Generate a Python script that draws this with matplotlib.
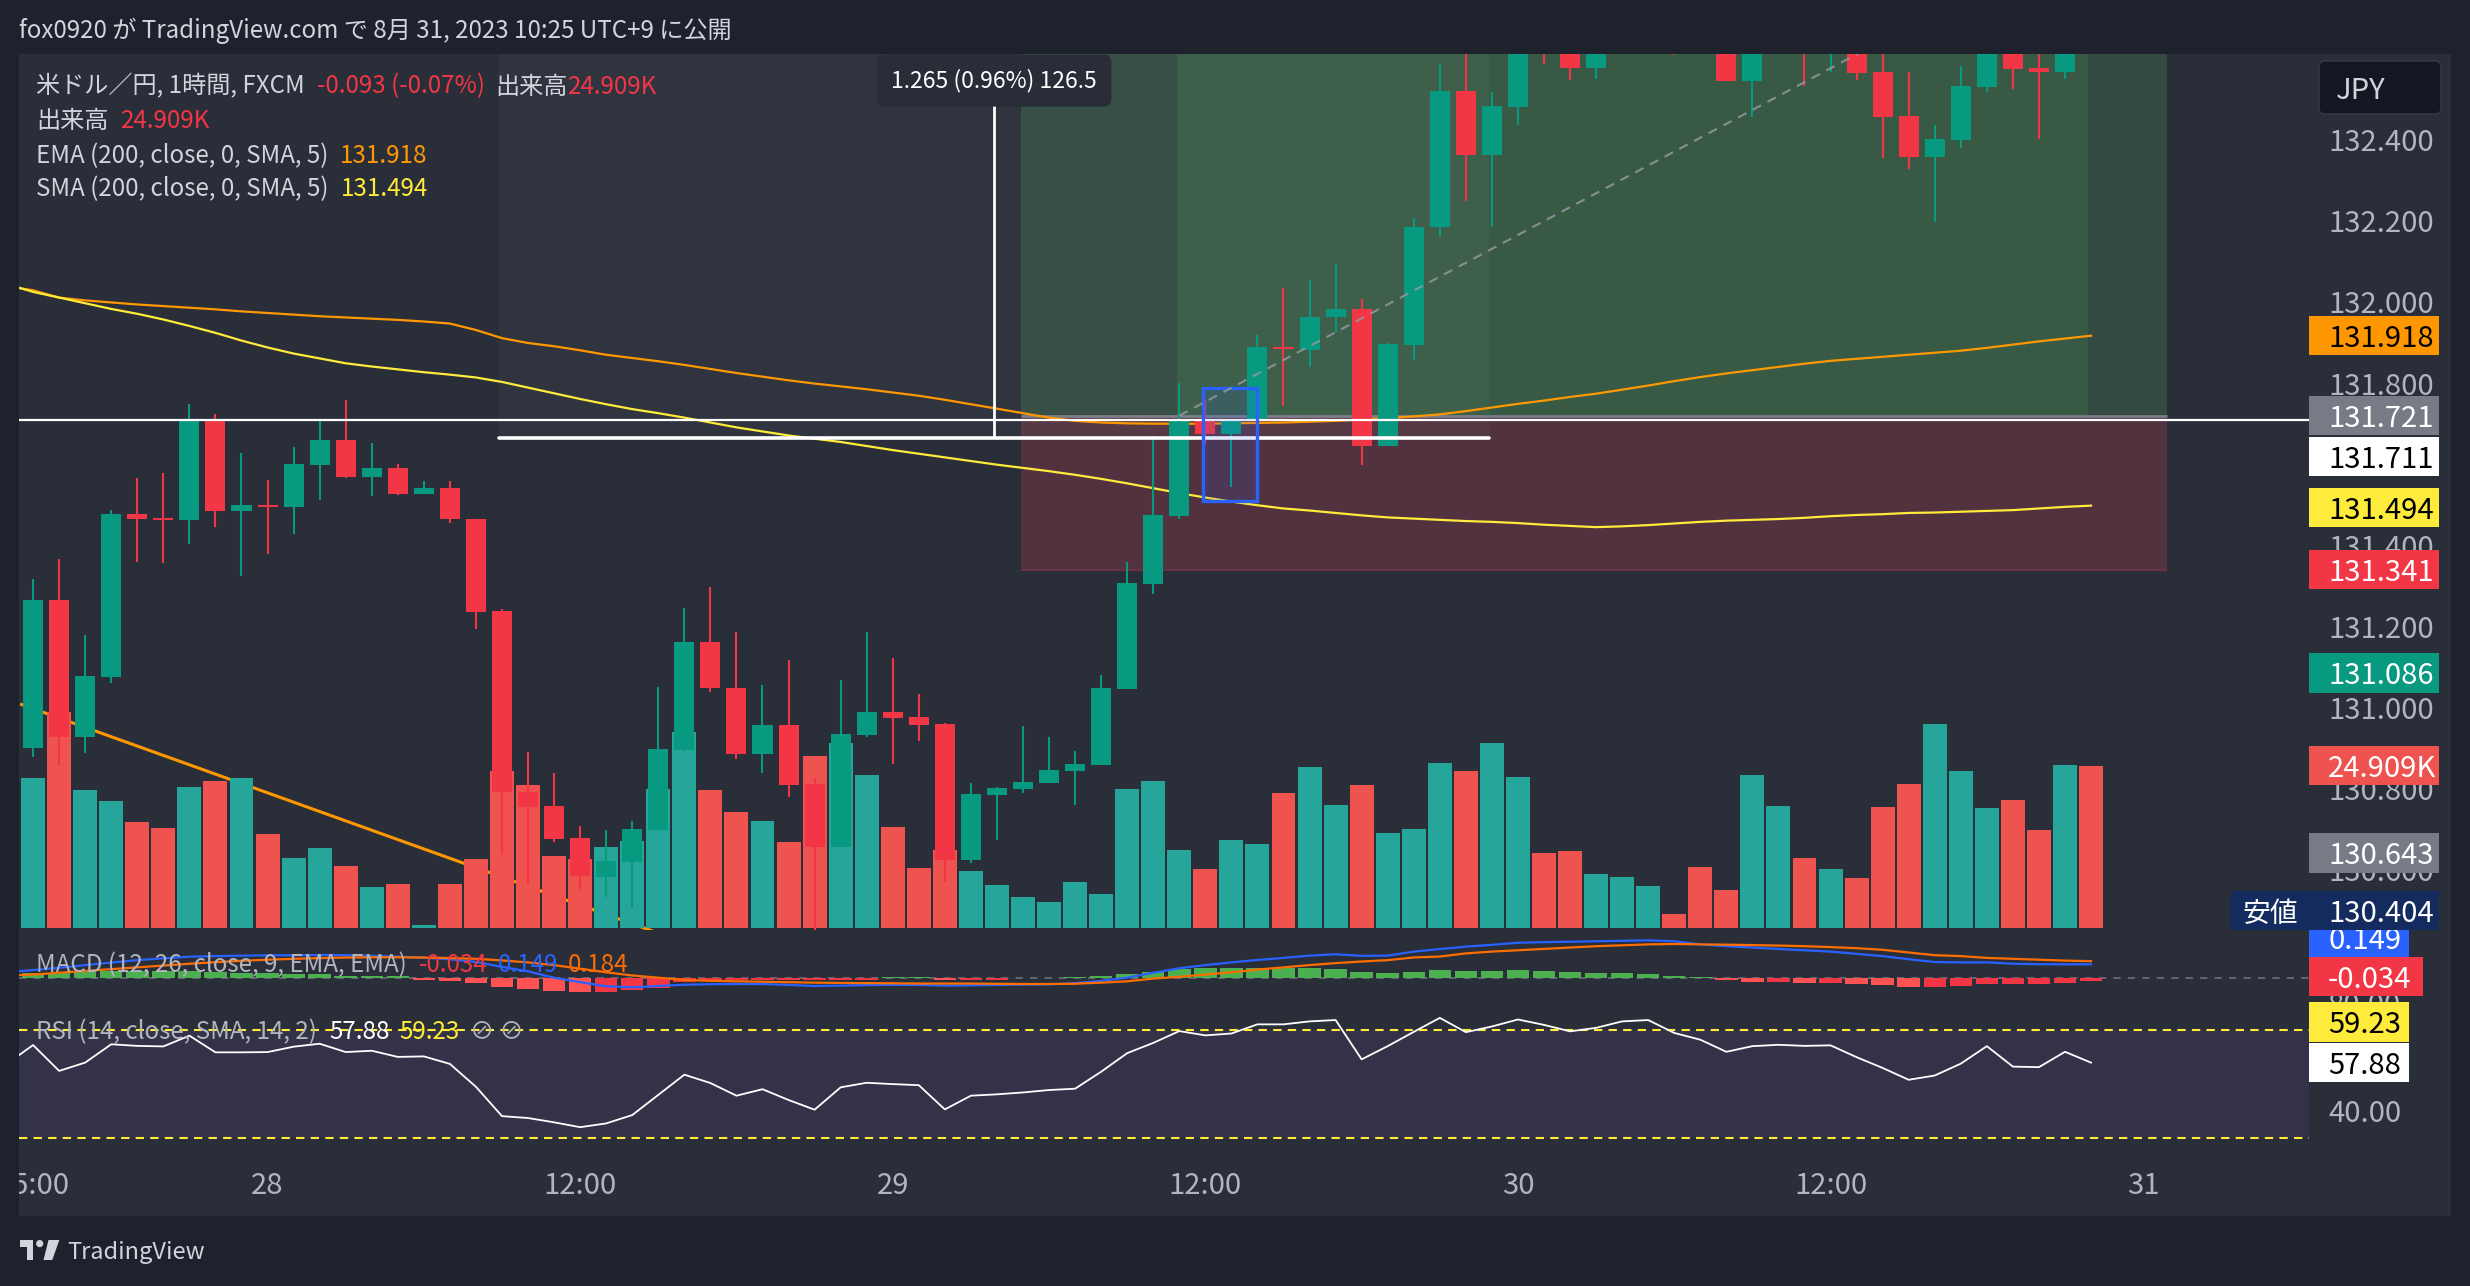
import numpy as np
import matplotlib
matplotlib.use('Agg')
import matplotlib.pyplot as plt
import matplotlib.transforms as mtransforms
from matplotlib.patches import Rectangle, FancyBboxPatch, Polygon, Circle

plt.rcParams['font.family'] = ['Noto Sans CJK JP', 'DejaVu Sans']

W, H = 2470, 1286

# ---------------- data ----------------
# 1h candles, index 0 = 27th 15:00
opens = [130.902, 131.266, 130.929, 131.077, 131.479, 131.468, 131.464, 131.707, 131.486, 131.501,
         131.496, 131.599, 131.661, 131.570, 131.592, 131.528, 131.543, 131.466, 131.240, 130.792,
         130.758, 130.680, 130.584, 130.620, 130.699, 130.897, 131.163, 131.050, 130.887, 130.958,
         130.813, 130.658, 130.934, 130.990, 130.978, 130.960, 130.625, 130.786, 130.800, 130.815,
         130.845, 130.860, 131.047, 131.306, 131.473, 131.713, 131.676, 131.707, 131.890, 131.883,
         131.964, 131.984, 131.646, 131.896, 132.185, 132.521, 132.364, 132.482, 132.700, 132.650,
         132.577, 132.660, 132.720, 132.750, 132.700, 132.680, 132.546, 132.660, 132.700, 132.660,
         132.700, 132.568, 132.460, 132.359, 132.400, 132.531, 132.650, 132.578, 132.568, 132.720]
highs = [131.318, 131.367, 131.180, 131.488, 131.567, 131.580, 131.750, 131.725, 131.629, 131.562,
         131.644, 131.708, 131.759, 131.654, 131.602, 131.560, 131.560, 131.466, 131.244, 130.892,
         130.840, 130.709, 130.699, 130.722, 131.052, 131.247, 131.298, 131.187, 131.057, 131.119,
         130.827, 131.070, 131.187, 131.124, 131.035, 130.962, 130.816, 130.806, 130.956, 130.929,
         130.894, 131.082, 131.360, 131.671, 131.801, 131.762, 131.711, 131.920, 132.036, 132.055,
         132.095, 132.008, 131.899, 132.208, 132.588, 132.700, 132.519, 132.720, 132.760, 132.700,
         132.700, 132.780, 132.800, 132.790, 132.770, 132.720, 132.700, 132.740, 132.730, 132.740,
         132.730, 132.650, 132.568, 132.437, 132.583, 132.680, 132.680, 132.660, 132.660, 132.740]
lows = [130.880, 130.858, 130.890, 131.062, 131.360, 131.358, 131.404, 131.446, 131.326, 131.380,
        131.429, 131.513, 131.567, 131.523, 131.525, 131.528, 131.457, 131.195, 130.638, 130.567,
        130.670, 130.554, 130.535, 130.508, 130.699, 130.894, 131.040, 130.874, 130.841, 130.781,
        130.453, 130.658, 130.929, 130.862, 130.919, 130.571, 130.618, 130.675, 130.791, 130.815,
        130.760, 130.860, 131.047, 131.282, 131.465, 131.651, 131.544, 131.707, 131.745, 131.840,
        131.927, 131.599, 131.645, 131.859, 132.162, 132.251, 132.186, 132.438, 132.587, 132.549,
        132.550, 132.630, 132.650, 132.611, 132.650, 132.546, 132.458, 132.630, 132.534, 132.569,
        132.548, 132.357, 132.329, 132.198, 132.381, 132.520, 132.526, 132.403, 132.551, 132.640]
closes = [131.266, 130.929, 131.079, 131.479, 131.467, 131.463, 131.707, 131.486, 131.501, 131.495,
          131.602, 131.661, 131.570, 131.592, 131.528, 131.543, 131.466, 131.237, 130.792, 130.757,
          130.677, 130.585, 130.623, 130.702, 130.899, 131.163, 131.050, 130.887, 130.958, 130.810,
          130.658, 130.936, 130.990, 130.975, 130.958, 130.625, 130.788, 130.803, 130.817, 130.847,
          130.862, 131.050, 131.309, 131.476, 131.713, 131.676, 131.707, 131.890, 131.885, 131.964,
          131.984, 131.646, 131.898, 132.186, 132.521, 132.364, 132.484, 132.680, 132.650, 132.577,
          132.660, 132.720, 132.750, 132.700, 132.680, 132.546, 132.660, 132.700, 132.660, 132.700,
          132.566, 132.457, 132.359, 132.403, 132.533, 132.650, 132.575, 132.568, 132.630, 132.660]
# volume in K
volumes = [23.05, 33.2, 21.2, 19.5, 16.3, 15.4, 21.6, 22.6, 23.05, 14.4,
           10.8, 12.3, 9.5, 6.3, 6.75, 0.4, 6.75, 10.6, 24.1, 22.0,
           11.06, 10.6, 12.4, 13.4, 21.3, 30.1, 21.2, 17.8, 16.4, 13.2,
           26.4, 28.4, 23.5, 15.5, 9.2, 12.0, 8.75, 6.6, 4.76, 4.0,
           7.06, 5.2, 21.3, 22.6, 12.0, 9.06, 13.5, 12.9, 20.7, 24.7,
           18.9, 22.0, 14.6, 15.2, 25.3, 24.1, 28.4, 23.2, 11.5, 11.8,
           8.3, 7.9, 6.45, 2.15, 9.4, 5.8, 23.5, 18.7, 10.75, 9.06,
           7.7, 18.6, 22.1, 31.4, 24.1, 18.5, 19.7, 15.05, 25.0, 24.909]

# indicator series start one bar earlier (index -1, off screen)
ema200 = [132.040, 132.030, 132.012, 132.005, 132.000, 131.995, 131.991, 131.987, 131.983, 131.978,
          131.974, 131.970, 131.966, 131.963, 131.960, 131.957, 131.953, 131.948, 131.932, 131.912,
          131.900, 131.892, 131.882, 131.871, 131.863, 131.855, 131.846, 131.836, 131.826, 131.817,
          131.808, 131.800, 131.793, 131.786, 131.778, 131.770, 131.760, 131.749, 131.738, 131.727,
          131.716, 131.708, 131.704, 131.702, 131.701, 131.701, 131.701, 131.702, 131.703, 131.704,
          131.706, 131.708, 131.711, 131.715, 131.719, 131.724, 131.732, 131.741, 131.750, 131.758,
          131.767, 131.775, 131.785, 131.795, 131.806, 131.816, 131.825, 131.833, 131.841, 131.849,
          131.856, 131.861, 131.866, 131.871, 131.876, 131.881, 131.888, 131.896, 131.904, 131.911,
          131.918]
sma200 = [132.045, 132.026, 132.012, 131.998, 131.984, 131.972, 131.958, 131.942, 131.925, 131.906,
          131.889, 131.874, 131.862, 131.850, 131.842, 131.835, 131.828, 131.822, 131.815, 131.804,
          131.790, 131.776, 131.762, 131.749, 131.737, 131.727, 131.716, 131.704, 131.692, 131.682,
          131.672, 131.664, 131.656, 131.646, 131.636, 131.627, 131.618, 131.609, 131.600, 131.592,
          131.584, 131.575, 131.565, 131.554, 131.542, 131.530, 131.519, 131.509, 131.500, 131.492,
          131.487, 131.481, 131.475, 131.470, 131.467, 131.464, 131.461, 131.459, 131.456, 131.452,
          131.449, 131.446, 131.448, 131.451, 131.455, 131.459, 131.462, 131.464, 131.466, 131.469,
          131.473, 131.476, 131.478, 131.481, 131.482, 131.484, 131.486, 131.488, 131.492, 131.496,
          131.499]
macd_line = [0.060, 0.085, 0.110, 0.140, 0.168, 0.195, 0.215, 0.233, 0.240, 0.245,
             0.248, 0.250, 0.252, 0.250, 0.243, 0.233, 0.222, 0.205, 0.175, 0.120,
             0.070, 0.000, -0.050, -0.095, -0.107, -0.092, -0.078, -0.072, -0.070, -0.070,
             -0.080, -0.092, -0.088, -0.082, -0.080, -0.080, -0.088, -0.085, -0.080, -0.077,
             -0.074, -0.060, -0.035, 0.000, 0.055, 0.105, 0.140, 0.170, 0.197, 0.220,
             0.245, 0.260, 0.243, 0.245, 0.290, 0.318, 0.345, 0.365, 0.388, 0.395,
             0.400, 0.405, 0.410, 0.415, 0.405, 0.370, 0.350, 0.335, 0.320, 0.305,
             0.290, 0.265, 0.240, 0.205, 0.174, 0.170, 0.170, 0.155, 0.150, 0.149,
             0.149]
macd_signal = [0.025, 0.035, 0.055, 0.075, 0.095, 0.115, 0.135, 0.155, 0.172, 0.188,
               0.200, 0.210, 0.218, 0.224, 0.227, 0.227, 0.224, 0.218, 0.210, 0.192,
               0.170, 0.140, 0.100, 0.060, 0.025, 0.000, -0.025, -0.035, -0.040, -0.045,
               -0.050, -0.055, -0.058, -0.060, -0.062, -0.065, -0.065, -0.065, -0.068, -0.070,
               -0.070, -0.067, -0.055, -0.040, -0.010, 0.010, 0.035, 0.060, 0.090, 0.115,
               0.140, 0.162, 0.180, 0.195, 0.225, 0.235, 0.270, 0.290, 0.305, 0.320,
               0.335, 0.350, 0.360, 0.370, 0.375, 0.370, 0.367, 0.362, 0.357, 0.350,
               0.340, 0.328, 0.310, 0.280, 0.250, 0.240, 0.220, 0.210, 0.200, 0.190,
               0.184]
macd_hist = [0.049, 0.049, 0.067, 0.078, 0.078, 0.078, 0.078, 0.067, 0.056, 0.049,
             0.037, 0.037, 0.022, 0.015, 0.015, -0.026, -0.037, -0.055, -0.103, -0.126,
             -0.144, -0.156, -0.156, -0.133, -0.111, -0.044, -0.026, -0.026, -0.026, -0.026,
             -0.026, -0.026, -0.026, 0.004, 0.004, -0.026, -0.026, -0.022, -0.007, -0.004,
             0.007, 0.019, 0.040, 0.063, 0.097, 0.107, 0.107, 0.104, 0.107, 0.107,
             0.097, 0.063, 0.052, 0.063, 0.085, 0.074, 0.074, 0.085, 0.074, 0.063,
             0.052, 0.052, 0.040, 0.019, 0.007, -0.022, -0.044, -0.044, -0.055, -0.055,
             -0.067, -0.078, -0.100, -0.100, -0.089, -0.067, -0.067, -0.067, -0.055, -0.034]
rsi14 = [57.5, 64.4, 54.8, 57.9, 64.7, 64.1, 63.9, 67.9, 61.7, 61.7,
         61.8, 63.8, 64.9, 61.8, 62.3, 60.0, 60.2, 57.4, 48.9, 38.0,
         37.3, 35.7, 33.9, 35.3, 38.4, 45.9, 53.4, 50.3, 45.6, 48.0,
         44.0, 40.4, 48.7, 50.4, 49.9, 49.5, 40.5, 45.6, 46.1, 46.8,
         47.7, 48.2, 54.5, 61.4, 65.2, 69.6, 68.0, 68.7, 72.1, 72.1,
         73.2, 73.7, 59.1, 64.0, 69.3, 74.5, 69.2, 71.3, 73.9, 71.9,
         69.5, 70.8, 73.2, 73.7, 68.9, 66.4, 61.9, 64.0, 64.5, 64.1,
         64.3, 59.9, 55.9, 51.5, 53.1, 57.5, 64.0, 56.4, 56.2, 61.9,
         57.88]

# visible price scale ticks (131.600 sits fully under a label in the reference)
price_ticks = [130.6, 130.8, 131.0, 131.2, 131.4, 131.8, 132.0, 132.2, 132.4]
rsi_ticks = [80, 40]
time_ticks = [0, 9, 21, 33, 45, 57, 69, 81]
time_labels = ['15:00', '28', '12:00', '29', '12:00', '30', '12:00', '31']

# drawings
hline_price = 131.711
long_entry, long_stop, long_target = 131.721, 131.341, 132.95
long_x0, long_x1 = 37.92, 81.92
long_fill_x0, long_fill_x1 = 43.9, 78.9
measure_x0, measure_x1, measure_vx = 17.9, 55.9, 36.9
measure_low, measure_size = 131.666, 1.265
trend_x = [-0.5, 26.0]
trend_y = [131.010, 130.399]
box_x = [44.9, 47.0]
box_y = [131.511, 131.789]
path_x = [44.0, 79.0]
path_y = [131.721, 132.92]

# ---------------- layout (pixels) ----------------
BG = '#2a2e39'
DARK = '#1e222d'
TXT = '#d1d4dc'
AXT = '#b2b5be'
UP, DOWN = '#089981', '#f23645'
VUP, VDOWN = '#26a69a', '#ef5350'

PL, PR = 19.3, 2309.0           # plot left/right
MT, MB = 53.6, 930.0            # main pane top/bottom
MACD_B, RSI_B, TIME_B = 1003.0, 1156.0, 1216.0
PX = mtransforms.IdentityTransform()
DY = 3                          # Noto CJK sits a bit high with va='center'
LEG = 17.4


def frac(x0, y0, x1, y1):
    return [x0 / W, 1 - y1 / H, (x1 - x0) / W, (y1 - y0) / H]


def xidx(X):
    return (X - 33.1) / 26.05


def fy(Y):
    return H - Y


fig = plt.figure(figsize=(W / 100, H / 100), dpi=100, facecolor=DARK)
fig.patches.append(Rectangle((PL, fy(TIME_B)), 2451 - PL, TIME_B - MT,
                             transform=PX, facecolor=BG, edgecolor='none', zorder=-10))

xl = (xidx(PL), xidx(PR))
plo = 132.4 - (MB - 140.2) / 405.6
phi = 132.4 - (MT - 140.2) / 405.6

ax_vol = fig.add_axes(frac(PL, MT, PR, MB))
ax_vol.set_xlim(*xl)
ax_vol.set_ylim(-(MB - 928) / 6.512, (928 - MT) / 6.512)
ax_vol.axis('off')

ax = fig.add_axes(frac(PL, MT, PR, MB))
ax.set_facecolor('none')
ax.set_xlim(*xl)
ax.set_ylim(plo, phi)
ax.axis('off')

x = np.arange(len(opens))
xi = np.arange(-1, len(opens))
o = np.array(opens); c = np.array(closes)
hi = np.array(highs); lo = np.array(lows)
up = c >= o

# trend line drawn under the volume bars
ax_vol.plot(trend_x, trend_y, color='#ff9800', lw=2.2, transform=ax.transData, zorder=1,
            solid_capstyle='butt')
ax_vol.bar(x, volumes, width=0.92, color=np.where(up, VUP, VDOWN), linewidth=0, zorder=2)

# long position tool + measure box
ax.add_patch(Rectangle((long_x0, long_entry), long_x1 - long_x0, long_target - long_entry,
                       facecolor='#324a40', edgecolor='none', zorder=0.2))
ax.add_patch(Rectangle((long_fill_x0, long_entry), long_fill_x1 - long_fill_x0,
                       long_target - long_entry, facecolor='#385a45', edgecolor='none', zorder=0.3))
ax.add_patch(Rectangle((long_x0, long_stop), long_x1 - long_x0, long_entry - long_stop,
                       facecolor='#52323f', edgecolor='none', zorder=0.2))
ax.hlines(long_stop, long_x0, long_x1, color='#6b3341', lw=1.5, zorder=0.4)
ax.hlines(long_entry, long_x0, long_x1, color='#787b86', lw=2, zorder=0.4)
ax.add_patch(Rectangle((measure_x0, measure_low), measure_x1 - measure_x0, measure_size,
                       facecolor='white', alpha=0.03, edgecolor='none', zorder=0.5))

# moving averages
ax.plot(xi, ema200, color='#ff9800', lw=1.6, zorder=2)
ax.plot(xi, sma200, color='#ffeb3b', lw=1.6, zorder=2)

# candles
ax.vlines(x, lo, hi, colors=np.where(up, UP, DOWN), lw=1.5, zorder=3)
body = np.maximum(np.abs(c - o), 0.004)
ax.bar(x, body, width=0.77, bottom=np.minimum(o, c), color=np.where(up, UP, DOWN),
       linewidth=0, zorder=4)

# drawings on top
ax.axhline(hline_price, color='white', lw=1.6, zorder=5)
ax.hlines(measure_low, measure_x0, measure_x1, color='white', lw=2.6, zorder=5,
          capstyle='round')
ax.vlines(measure_vx, measure_low, 132.497, color='white', lw=2.0, zorder=5)
ax.text(measure_vx, 132.547, '1.265 (0.96%) 126.5', color='white', fontsize=16.5,
        ha='center', va='center', zorder=7,
        bbox=dict(boxstyle='round,pad=0.62,rounding_size=0.35', fc='#2a2d38', ec='none'))
ax.add_patch(Rectangle((box_x[0], box_y[0]), box_x[1] - box_x[0], box_y[1] - box_y[0],
                       facecolor=(0.16, 0.38, 1.0, 0.12), edgecolor='#2962ff', lw=2.4, zorder=5))
ax.plot(path_x, path_y, color='#9598a1', lw=1.5, ls=(0, (4.5, 3.5)), alpha=0.85, zorder=5)

# ---------------- MACD ----------------
ax_m = fig.add_axes(frac(PL, MB, PR, MACD_B))
ax_m.set_facecolor('none')
ax_m.set_xlim(*xl)
ax_m.set_ylim(-(MACD_B - 977.7) / 90, (977.7 - MB) / 90)
ax_m.axis('off')
hist = np.array(macd_hist)
prev = np.concatenate([[hist[0]], hist[:-1]])
hcol = np.where(hist >= 0, '#4caf50', np.where(hist < prev, '#ff5252', '#f23645'))
ax_m.axhline(0, color='#787b86', lw=1.3, ls=(0, (4, 4)), alpha=0.8, zorder=1)
ax_m.bar(x, hist, width=0.86, color=hcol, linewidth=0, zorder=2)
ax_m.plot(xi, macd_line, color='#2962ff', lw=1.6, zorder=3)
ax_m.plot(xi, macd_signal, color='#ff6d00', lw=1.6, zorder=3)

# ---------------- RSI ----------------
ax_r = fig.add_axes(frac(PL, MACD_B, PR, RSI_B))
ax_r.set_facecolor('none')
ax_r.set_xlim(*xl)
ax_r.set_ylim(70 - (RSI_B - 1030) / 2.692, 70 + (1030 - MACD_B) / 2.692)
ax_r.axis('off')
ax_r.axhspan(30, 70, color='#7e57c2', alpha=0.12, lw=0, zorder=0)
for lvl in (30, 70):
    ax_r.axhline(lvl, color='#ffeb3b', lw=1.5, ls=(0, (4, 3)), zorder=1)
ax_r.plot(xi, rsi14, color='white', lw=1.3, zorder=2)

# ---------------- time axis ----------------
ax_t = fig.add_axes(frac(PL, RSI_B, PR, TIME_B))
ax_t.set_facecolor('none')
ax_t.set_xlim(*xl)
ax_t.set_ylim(0, 1)
ax_t.axis('off')
for tx, tl in zip(time_ticks, time_labels):
    ax_t.text(tx, 0.50, tl, color=AXT, fontsize=21, ha='center', va='center', clip_on=True)

# ---------------- price scale ----------------
pax = fig.add_axes(frac(PR, MT, 2451, TIME_B))
pax.set_facecolor('none')
pax.set_xlim(0, 2451 - PR)
pax.set_ylim(fy(TIME_B), fy(MT))
pax.axis('off')


def ypix(axis, v):
    return axis.transData.transform((0, v))[1]


for p in price_ticks:
    pax.text(19, ypix(ax, p) - DY, '%.3f' % p, color=AXT, fontsize=21, ha='left', va='center',
             zorder=1)
for p in rsi_ticks:
    pax.text(19, ypix(ax_r, p) - DY, '%.2f' % p, color=AXT, fontsize=21, ha='left', va='center',
             zorder=1)

# text, value, pane, shift down (px), background, text colour, box width
price_labels = [
    ('131.918', 131.918, ax, 0, '#ff9800', 'black', 130),
    ('131.721', 131.721, ax, 0, '#787b86', 'white', 130),
    ('131.711', 131.711, ax, 37, 'white', 'black', 130),
    ('131.494', 131.494, ax, 0, '#ffeb3b', 'black', 130),
    ('131.341', 131.341, ax, 0, '#f23645', 'white', 130),
    ('131.086', 131.086, ax, 0, '#089981', 'white', 130),
    ('24.909K', 24.909, ax_vol, 0, '#ef5350', 'white', 130),
    ('130.643', 130.643, ax, 0, '#787b86', 'white', 130),
    ('0.149', 0.149, ax_m, -26, '#2962ff', 'white', 100),
    ('130.404', 130.404, ax, -39, '#132b5e', 'white', 130),
    ('-0.034', -0.034, ax_m, -4, '#f23645', 'white', 114),
    ('59.23', 59.23, ax_r, -37, '#ffeb3b', 'black', 100),
    ('57.88', 57.88, ax_r, 0, 'white', 'black', 100),
]
for k, (txt, val, pane, shift, bg, fg, bw) in enumerate(price_labels):
    yc = ypix(pane, val) - shift
    x0 = 0
    if txt == '130.404':
        x0 = -78
        pax.text(-39, yc - DY, '安値', color='white', fontsize=20, ha='center', va='center',
                 zorder=11 + 2 * k, clip_on=False)
    pax.add_patch(Rectangle((x0, yc - 19.7), bw - x0, 39.4, facecolor=bg, edgecolor='none',
                            zorder=10 + 2 * k, clip_on=False))
    pax.text(19, yc - DY, txt, color=fg, fontsize=21, ha='left', va='center', zorder=11 + 2 * k)

pax.add_patch(FancyBboxPatch((10, fy(114)), 122, 53, boxstyle='round,pad=0,rounding_size=6',
                             facecolor='#131722', edgecolor='#363a45', lw=1, zorder=5))
pax.text(27, fy(88) - DY, 'JPY', color=TXT, fontsize=21, ha='left', va='center', zorder=6)

# ---------------- legends / header ----------------
rend = fig.canvas.get_renderer()


def chain(X, Y, pieces, size, gaps):
    for (s, col), g in zip(pieces, gaps):
        t = fig.text(X, fy(Y) - DY, s, color=col, fontsize=size, ha='left', va='center',
                     transform=PX)
        X = t.get_window_extent(rend).x1 + g


chain(19, 28, [('fox0920 が TradingView.com で 8月 31, 2023 10:25 UTC+9 に公開', TXT)], LEG, [0])
chain(36, 83.5, [('米ドル／円, 1時間, FXCM', TXT), ('-0.093 (-0.07%)', DOWN),
                 ('出来高', TXT), ('24.909K', DOWN)], LEG, [12, 10, 0, 0])
chain(36, 118, [('出来高', TXT), ('24.909K', DOWN)], LEG, [12, 0])
chain(36, 152.8, [('EMA (200, close, 0, SMA, 5)', TXT), ('131.918', '#ff9800')], LEG, [12, 0])
chain(36, 186, [('SMA (200, close, 0, SMA, 5)', TXT), ('131.494', '#ffeb3b')], LEG, [12, 0])
chain(36, 962.5, [('MACD (12, 26, close, 9, EMA, EMA)', AXT), ('-0.034', DOWN),
                  ('0.149', '#2962ff'), ('0.184', '#ff6d00')], LEG, [12, 10, 10, 0])
chain(36, 1029, [('RSI (14, close, SMA, 14, 2)', AXT), ('57.88', 'white'),
                 ('59.23', '#ffeb3b'), ('⊘ ⊘', AXT)], LEG, [12, 10, 10, 0])

# TradingView footer logo
logo = '#d1d4dc'
fig.patches.append(Polygon([(20, fy(1240)), (33.3, fy(1240)), (33.3, fy(1260)), (27.3, fy(1260)),
                            (27.3, fy(1246.7)), (20, fy(1246.7))], closed=True,
                           transform=PX, facecolor=logo, edgecolor='none'))
fig.patches.append(Circle((39.7, fy(1243.6)), 3.6, transform=PX, facecolor=logo, edgecolor='none'))
fig.patches.append(Polygon([(48.5, fy(1240)), (59.3, fy(1240)), (52.3, fy(1260)), (43.5, fy(1260))],
                           closed=True, transform=PX, facecolor=logo, edgecolor='none'))
fig.text(67, fy(1250) - DY, 'TradingView', color=logo, fontsize=17, ha='left', va='center',
         transform=PX)

fig.savefig('out.png', dpi=100, facecolor=DARK)
